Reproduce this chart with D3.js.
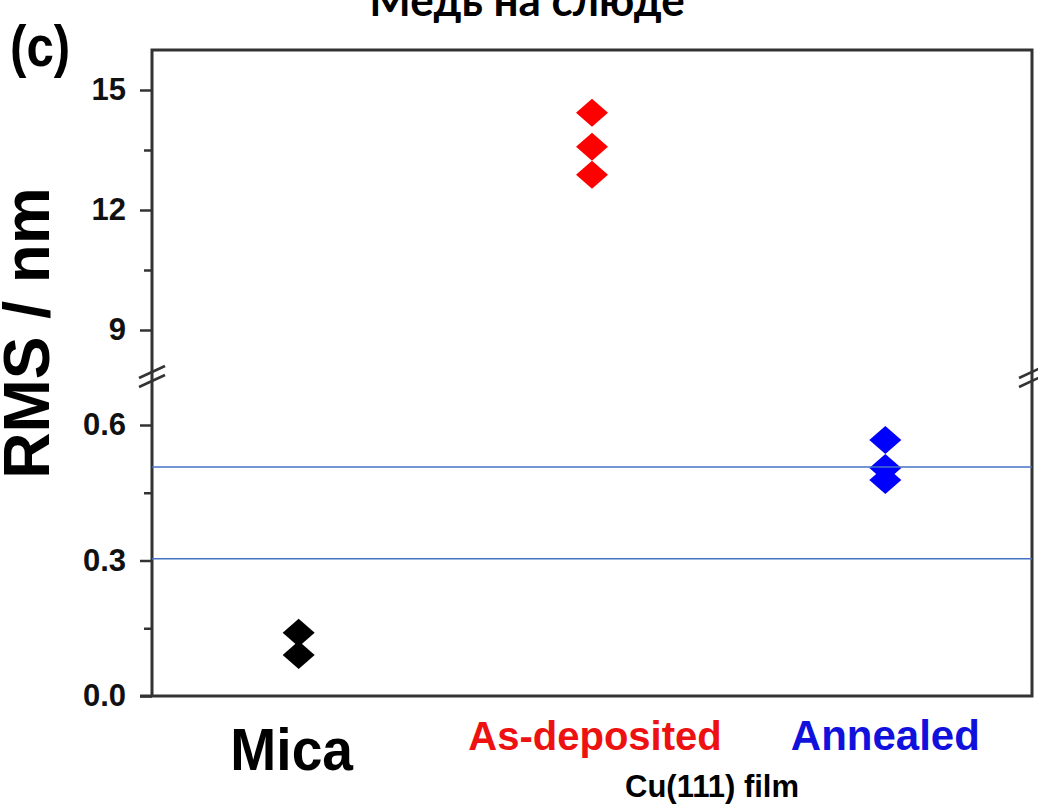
<!DOCTYPE html>
<html>
<head>
<meta charset="utf-8">
<script src="https://cdn.jsdelivr.net/npm/d3@7"></script>
<style>
  body { margin: 0; background: #fff; }
  svg { display: block; font-family: "Liberation Sans", Arial, sans-serif; }
</style>
</head>
<body>
<svg id="chart" width="1038" height="808"></svg>
<script>
const categories = ["Mica", "As-deposited", "Annealed"];
const categoryColors = ["#000000", "#ff0000", "#0000ff"];
const micaRms = [0.14, 0.091];
const asDepositedRms = [14.43, 13.58, 12.88];
const annealedRms = [0.567, 0.505, 0.478];
const upperTicks = [9, 12, 15];
const upperMinorTicks = [10.5, 13.5];
const lowerTicks = [0.0, 0.3, 0.6];
const lowerMinorTicks = [0.15, 0.45];
const guideValues = [0.507, 0.304];

const plotLeft = 152, plotRight = 1032, plotTop = 50, plotBottom = 696;
const breakY = 376;

const svg = d3.select('#chart');

const x = d3.scalePoint().domain(categories).range([plotLeft, plotRight]).padding(0.5);
// two y segments split by the axis break
const yUpper = d3.scaleLinear().domain([9, 15]).range([330, 90]);
const yLower = d3.scaleLinear().domain([0, 0.6]).range([plotBottom, 425]);
const yOf = v => v > 1 ? yUpper(v) : yLower(v);

// title, clipped at the top edge as in the source
svg.append('text')
  .attr('x', 527).attr('y', 16)
  .attr('text-anchor', 'middle')
  .attr('font-family', 'Lato, "Open Sans", sans-serif')
  .attr('font-weight', 'bold').attr('font-size', 44)
  .text('Медь на слюде');

svg.append('text')
  .attr('transform', 'translate(10,66) scale(0.85,1)')
  .attr('font-weight', 'bold').attr('font-size', 58)
  .text('(c)');

// axes
function drawAxis(scale, major, minor, fmt) {
  svg.append('g')
    .attr('transform', `translate(${plotLeft},0)`)
    .call(d3.axisLeft(scale).tickValues(major).tickSize(12).tickPadding(14).tickFormat(fmt))
    .call(g => g.select('.domain').remove())
    .call(g => g.selectAll('line').attr('stroke', '#333').attr('stroke-width', 2.5))
    .call(g => g.selectAll('text').attr('font-size', 31).attr('font-weight', 'bold')
      .attr('fill', '#111').attr('font-family', '"Liberation Sans", Arial, sans-serif'));
  svg.append('g')
    .attr('transform', `translate(${plotLeft},0)`)
    .call(d3.axisLeft(scale).tickValues(minor).tickSize(8).tickFormat(''))
    .call(g => g.select('.domain').remove())
    .call(g => g.selectAll('line').attr('stroke', '#333').attr('stroke-width', 2.5));
}
drawAxis(yUpper, upperTicks, upperMinorTicks, d3.format('d'));
drawAxis(yLower, lowerTicks, lowerMinorTicks, d3.format('.1f'));

// frame
svg.append('rect')
  .attr('x', plotLeft).attr('y', plotTop)
  .attr('width', plotRight - plotLeft).attr('height', plotBottom - plotTop)
  .attr('fill', 'none').attr('stroke', '#333').attr('stroke-width', 3);
svg.append('line')
  .attr('x1', plotLeft - 12).attr('x2', plotLeft)
  .attr('y1', plotBottom).attr('y2', plotBottom)
  .attr('stroke', '#333').attr('stroke-width', 3);

// break marks
[plotLeft, plotRight].forEach(bx => {
  [-4, 5].forEach(dy => {
    svg.append('line')
      .attr('x1', bx - 13).attr('y1', breakY + dy + 6)
      .attr('x2', bx + 13).attr('y2', breakY + dy - 6)
      .attr('stroke', '#333').attr('stroke-width', 2.5);
  });
});

// diamonds
const diamond = 'M0,-14L16,0L0,14L-16,0Z';
const series = [micaRms, asDepositedRms, annealedRms];
series.forEach((vals, i) => {
  svg.append('g').selectAll('path').data(vals).join('path')
    .attr('d', diamond)
    .attr('transform', d => `translate(${x(categories[i])},${yOf(d)})`)
    .attr('fill', categoryColors[i]);
});

// blue guide lines
svg.append('g').selectAll('line').data(guideValues).join('line')
  .attr('x1', plotLeft).attr('x2', plotRight)
  .attr('y1', d => yLower(d)).attr('y2', d => yLower(d))
  .attr('stroke', '#4472c4').attr('stroke-width', 1.5);

// y label
svg.append('text')
  .attr('transform', 'translate(49,333) rotate(-90)')
  .attr('text-anchor', 'middle')
  .attr('font-weight', 'bold').attr('font-size', 64)
  .text('RMS / nm');

// category labels
svg.append('text')
  .attr('transform', `translate(${x('Mica') - 7},770) scale(0.92,1)`)
  .attr('text-anchor', 'middle')
  .attr('font-weight', 'bold').attr('font-size', 60)
  .text('Mica');
svg.append('text')
  .attr('x', x('As-deposited') + 3).attr('y', 750)
  .attr('text-anchor', 'middle').attr('fill', '#ee1111')
  .attr('font-weight', 'bold').attr('font-size', 40)
  .text('As-deposited');
svg.append('text')
  .attr('x', x('Annealed')).attr('y', 750)
  .attr('text-anchor', 'middle').attr('fill', '#1111dd')
  .attr('font-weight', 'bold').attr('font-size', 42)
  .text('Annealed');
svg.append('text')
  .attr('x', 712).attr('y', 797)
  .attr('text-anchor', 'middle')
  .attr('font-weight', 'bold').attr('font-size', 31)
  .text('Cu(111) film');
</script>
</body>
</html>
